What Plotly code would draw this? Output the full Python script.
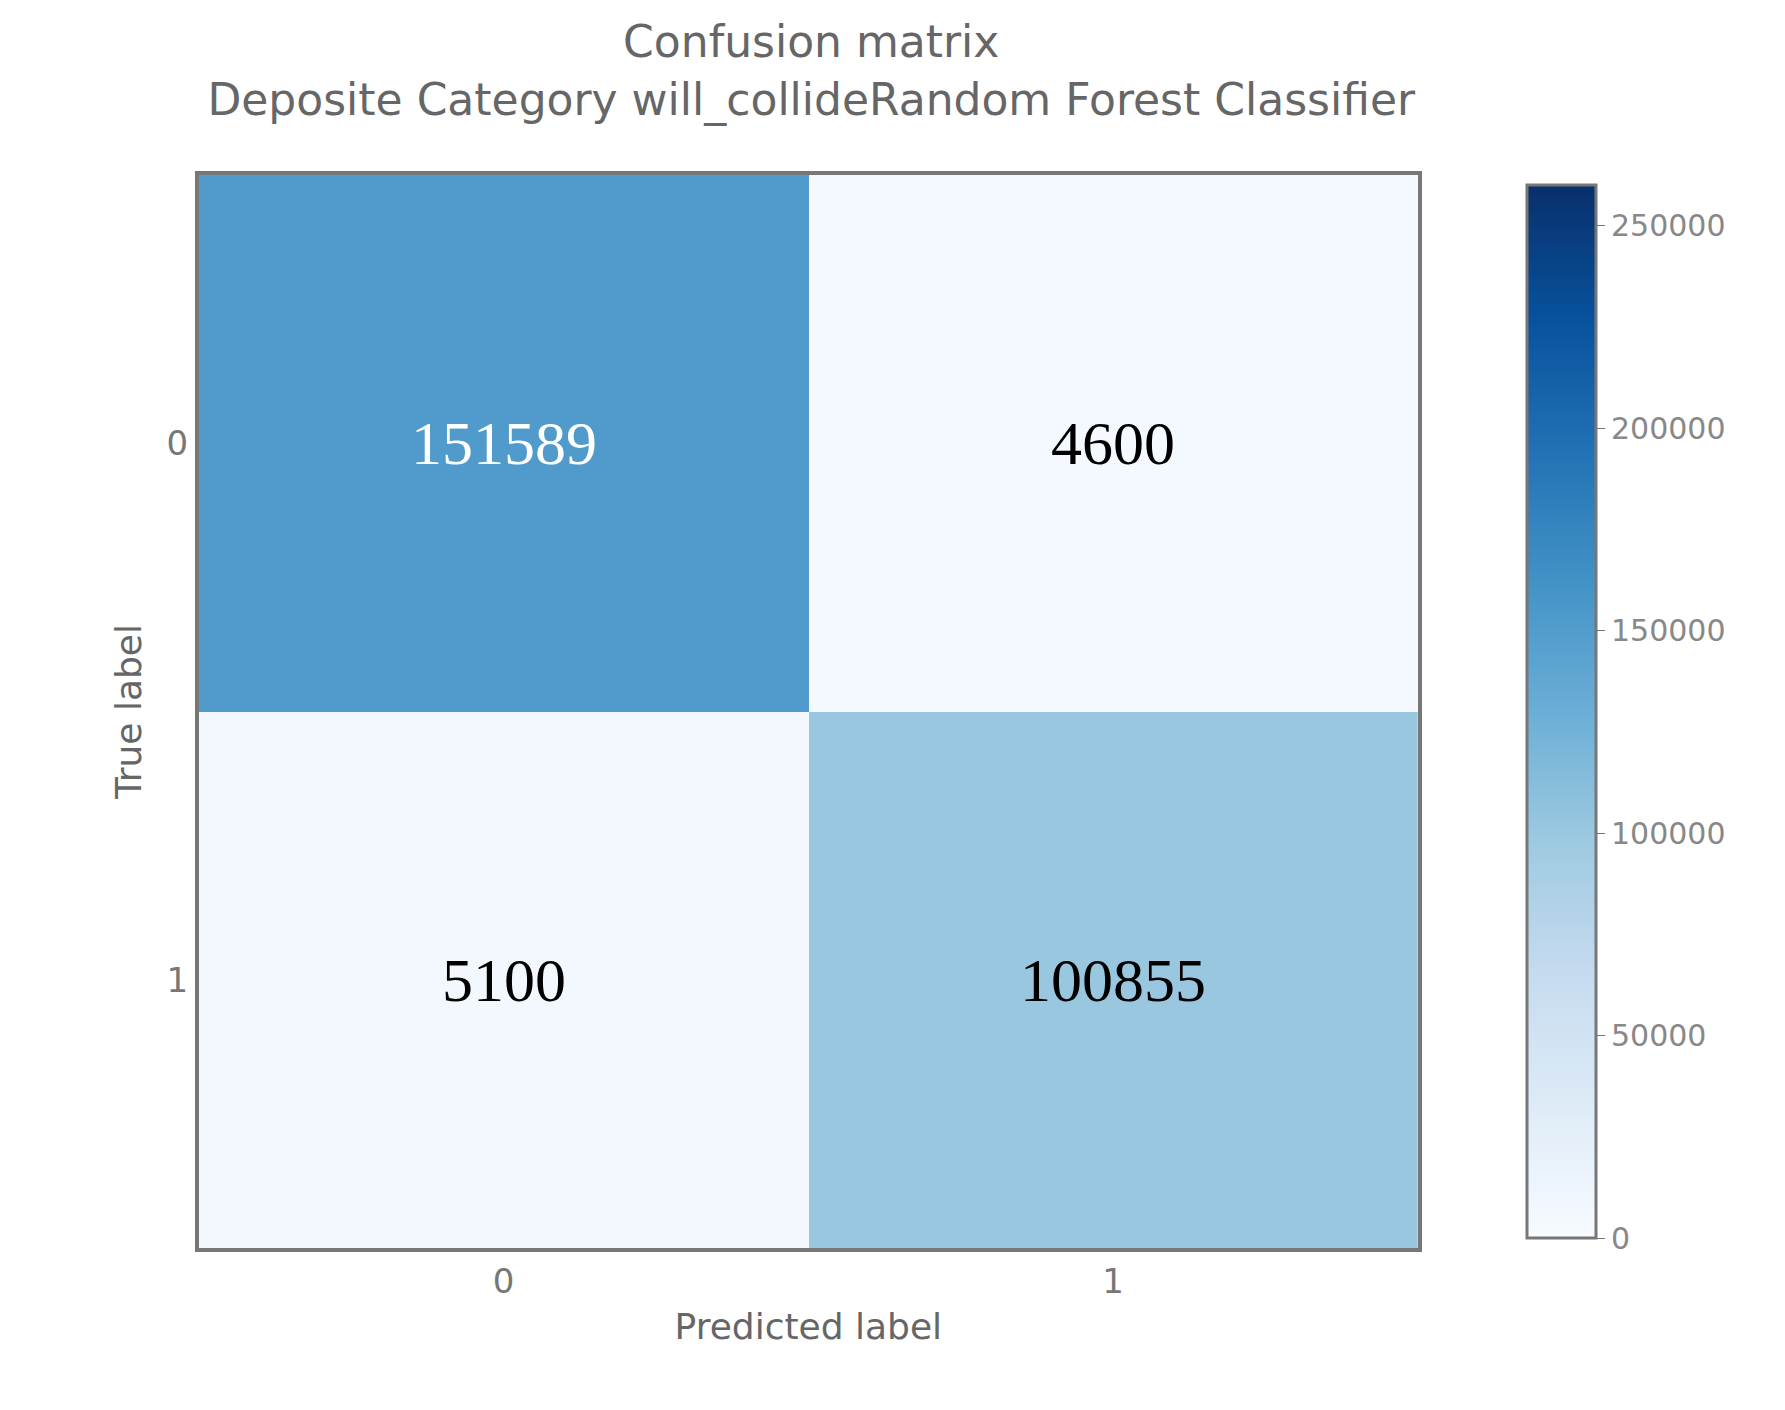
import plotly.graph_objects as go

pred_labels = ["0", "1"]
true_labels = ["0", "1"]
counts = [[151589, 4600], [5100, 100855]]
cbar_ticks = [0, 50000, 100000, 150000, 200000, 250000]

fig = go.Figure(go.Heatmap(
    z=counts, x=pred_labels, y=true_labels,
    colorscale="Blues", zmin=0, zmax=260000,
    colorbar=dict(tickvals=cbar_ticks, ticktext=[str(t) for t in cbar_ticks],
                  x=0.913, xanchor="left", len=1, y=0.5, yanchor="middle",
                  thickness=69, outlinewidth=3, outlinecolor="#777",
                  ticks="outside", ticklen=8, tickcolor="#777",
                  tickfont=dict(family="DejaVu Sans", size=30, color="#888")),
))
fig.update_layout(
    width=1785, height=1410, paper_bgcolor="white", plot_bgcolor="white",
    margin=dict(l=191, r=150, t=167, b=170),
    title=dict(text="Confusion matrix<br>Deposite Category will_collideRandom Forest Classifier",
               x=0.45, xanchor="center", y=0.965, yanchor="top",
               font=dict(family="DejaVu Sans", size=44, color="#666")),
    xaxis=dict(domain=[0, 0.844], title=dict(text="Predicted label", font=dict(family="DejaVu Sans", size=36, color="#666")),
               tickfont=dict(family="DejaVu Sans", size=34, color="#777"), showline=True, mirror=True,
               linecolor="#777", linewidth=4),
    yaxis=dict(autorange="reversed", title=dict(text="True label", font=dict(family="DejaVu Sans", size=36, color="#666")),
               tickfont=dict(family="DejaVu Sans", size=34, color="#777"), showline=True, mirror=True,
               linecolor="#777", linewidth=4),
)
text_colors = [["white", "black"], ["black", "black"]]
for i, t in enumerate(true_labels):
    for j, p in enumerate(pred_labels):
        fig.add_annotation(x=p, y=t, text=str(counts[i][j]), showarrow=False,
                           font=dict(family="Liberation Serif", size=62, color=text_colors[i][j]))
fig.write_html("out.html")
